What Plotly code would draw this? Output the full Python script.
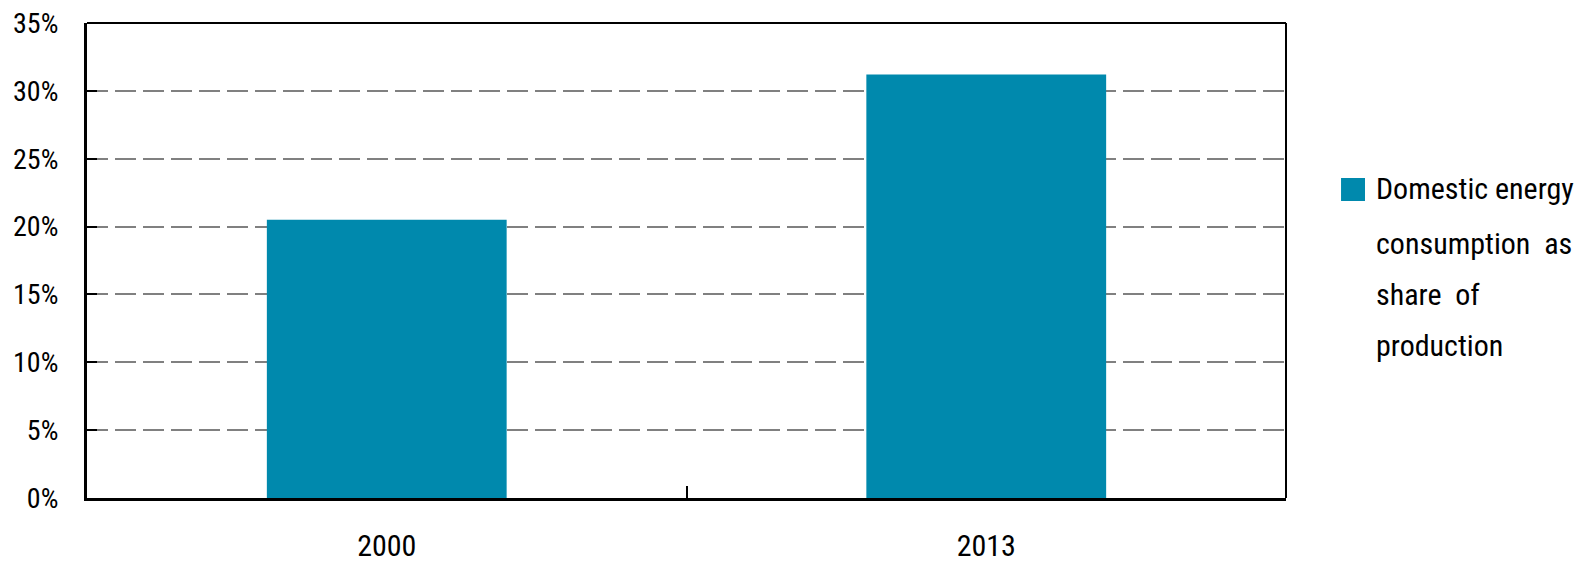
import plotly.graph_objects as go

years = ["2000", "2013"]
share = [0.205, 0.312]
series_name = "Domestic energy consumption as share of production"
legend_lines = ["Domestic energy", "consumption  as", "share  of", "production"]
y_ticks = [0, 0.05, 0.10, 0.15, 0.20, 0.25, 0.30, 0.35]

FONT = "Roboto Condensed, DejaVu Sans Condensed, sans-serif"
BAR = "#0089ad"

fig = go.Figure()
fig.add_trace(go.Bar(x=years, y=share, name=series_name, marker=dict(color=BAR, line=dict(width=0)),
                     width=0.4, showlegend=False))

fig.update_layout(
    width=1586, height=566,
    margin=dict(l=87, r=300, t=23, b=68),
    paper_bgcolor="white", plot_bgcolor="white",
    font=dict(family=FONT, color="black"),
    xaxis=dict(showline=True, linecolor="black", linewidth=3, ticks="inside", tickson="boundaries",
               ticklen=12, tickwidth=2, tickcolor="black", tickfont=dict(size=30, family=FONT),
               showgrid=False, ticklabelstandoff=19, automargin=False),
    yaxis=dict(range=[0, 0.35], tickvals=y_ticks, tickformat=".0%", showline=True, linecolor="black",
               linewidth=3, ticks="inside", ticklen=10, tickwidth=2, tickcolor="black",
               tickfont=dict(size=28, family=FONT), showgrid=True, gridcolor="#808080", gridwidth=2,
               griddash="21px,7px", zeroline=False, ticklabelstandoff=20, automargin=False),
)

# top and right frame
fig.add_shape(type="line", xref="paper", yref="paper", x0=0, x1=1, y0=1, y1=1, line=dict(color="black", width=2))
fig.add_shape(type="line", xref="paper", yref="paper", x0=1, x1=1, y0=0, y1=1, line=dict(color="black", width=2))

# custom legend
fig.add_shape(type="rect", xref="paper", yref="paper", x0=1.0459, x1=1.0659, y0=0.6253, y1=0.6737,
              fillcolor=BAR, line=dict(width=0))
line_y = [0.6526, 0.5368, 0.4274, 0.3221]
for txt, yy in zip(legend_lines, line_y):
    fig.add_annotation(text=txt, xref="paper", yref="paper", x=1.0735, y=yy, xanchor="left", yanchor="middle",
                       showarrow=False, font=dict(size=30, family=FONT, color="black"))

fig.write_html("out.html")
